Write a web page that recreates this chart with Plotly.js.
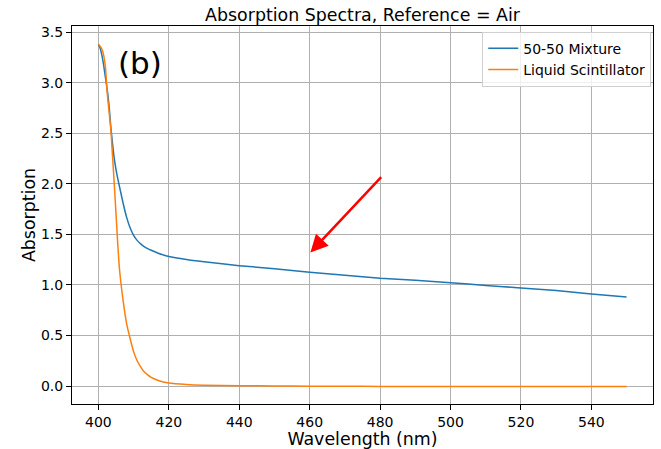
<!DOCTYPE html>
<html>
<head>
<meta charset="utf-8">
<script src="https://cdn.plot.ly/plotly-3.0.1.min.js"></script>
<style>html,body{margin:0;padding:0;background:#fff;}#chart{width:661px;height:449px;}</style>
</head>
<body>
<div id="chart"></div>
<script>
const wavelength = [400, 400.5, 401, 401.5, 402, 402.5, 403, 403.5, 404, 404.5, 405, 405.5, 406, 407, 408, 409, 410, 411, 412, 413, 414, 415, 417, 420, 425, 430, 440, 450, 460, 470, 480, 490, 500, 510, 520, 530, 540, 550];
const mixture = [3.38, 3.34, 3.27, 3.17, 3.05, 2.93, 2.78, 2.57, 2.40, 2.25, 2.14, 2.05, 1.97, 1.81, 1.67, 1.565, 1.49, 1.44, 1.405, 1.378, 1.358, 1.342, 1.313, 1.28, 1.25, 1.228, 1.19, 1.16, 1.125, 1.095, 1.065, 1.045, 1.02, 0.995, 0.97, 0.945, 0.91, 0.88];
const scintillator = [3.38, 3.36, 3.33, 3.27, 3.15, 2.90, 2.72, 2.55, 2.28, 2.00, 1.70, 1.40, 1.15, 0.85, 0.62, 0.47, 0.34, 0.25, 0.19, 0.14, 0.11, 0.085, 0.055, 0.03, 0.015, 0.008, 0.003, 0.0, -0.002, -0.003, -0.004, -0.004, -0.005, -0.005, -0.005, -0.006, -0.006, -0.006];
const seriesNames = ["50-50 Mixture", "Liquid Scintillator"];
const arrowTail = [480.7, 2.08];
const arrowHead = [460.2, 1.32];
const panelLabel = "(b)";
const panelPos = [411.9, 3.19];

const font = "DejaVu Sans, sans-serif";
const data = [
  {x: wavelength, y: mixture, type: "scatter", mode: "lines", name: seriesNames[0], line: {color: "#1f77b4", width: 1.5, shape: "spline", smoothing: 0.6}},
  {x: wavelength, y: scintillator, type: "scatter", mode: "lines", name: seriesNames[1], line: {color: "#ff7f0e", width: 1.5, shape: "spline", smoothing: 0.6}}
];
const axisCommon = {showline: true, linecolor: "#000", linewidth: 1, mirror: true, ticks: "outside", ticklen: 5, tickcolor: "#000",
  showgrid: true, gridcolor: "#b0b0b0", gridwidth: 1, zeroline: false, tickfont: {family: font, size: 14, color: "#000"}};
const layout = {
  width: 661, height: 449,
  margin: {l: 72, r: 8, t: 26, b: 45},
  paper_bgcolor: "#fff", plot_bgcolor: "#fff",
  title: {text: "Absorption Spectra, Reference = Air", font: {family: font, size: 17.4, color: "#000"}, x: 0.5, xref: "paper", y: 1, yref: "paper", yanchor: "bottom", pad: {b: 5}},
  xaxis: Object.assign({}, axisCommon, {range: [392.5, 557.5], tickvals: [400, 420, 440, 460, 480, 500, 520, 540],
    title: {text: "Wavelength (nm)", font: {family: font, size: 17.4, color: "#000"}, standoff: 1}}),
  yaxis: Object.assign({}, axisCommon, {range: [-0.178, 3.56], tickvals: [0, 0.5, 1, 1.5, 2, 2.5, 3, 3.5], tickformat: ".1f",
    title: {text: "Absorption", font: {family: font, size: 17.4, color: "#000"}, standoff: 0}}),
  legend: {x: 0.997, y: 0.985, xanchor: "right", yanchor: "top", bgcolor: "rgba(255,255,255,0.8)", bordercolor: "#d0d0d0", borderwidth: 1,
    font: {family: font, size: 14, color: "#000"}, itemwidth: 30},
  showlegend: true,
  annotations: [
    {x: arrowHead[0], y: arrowHead[1], ax: arrowTail[0], ay: arrowTail[1], xref: "x", yref: "y", axref: "x", ayref: "y",
     showarrow: true, arrowhead: 2, arrowsize: 1.4, arrowwidth: 2.5, arrowcolor: "#ff0000", text: ""},
    {x: panelPos[0], y: panelPos[1], xref: "x", yref: "y", text: panelLabel, showarrow: false, font: {family: font, size: 31, color: "#000"}}
  ]
};
Plotly.newPlot("chart", data, layout, {displayModeBar: false, staticPlot: true});
</script>
</body>
</html>
